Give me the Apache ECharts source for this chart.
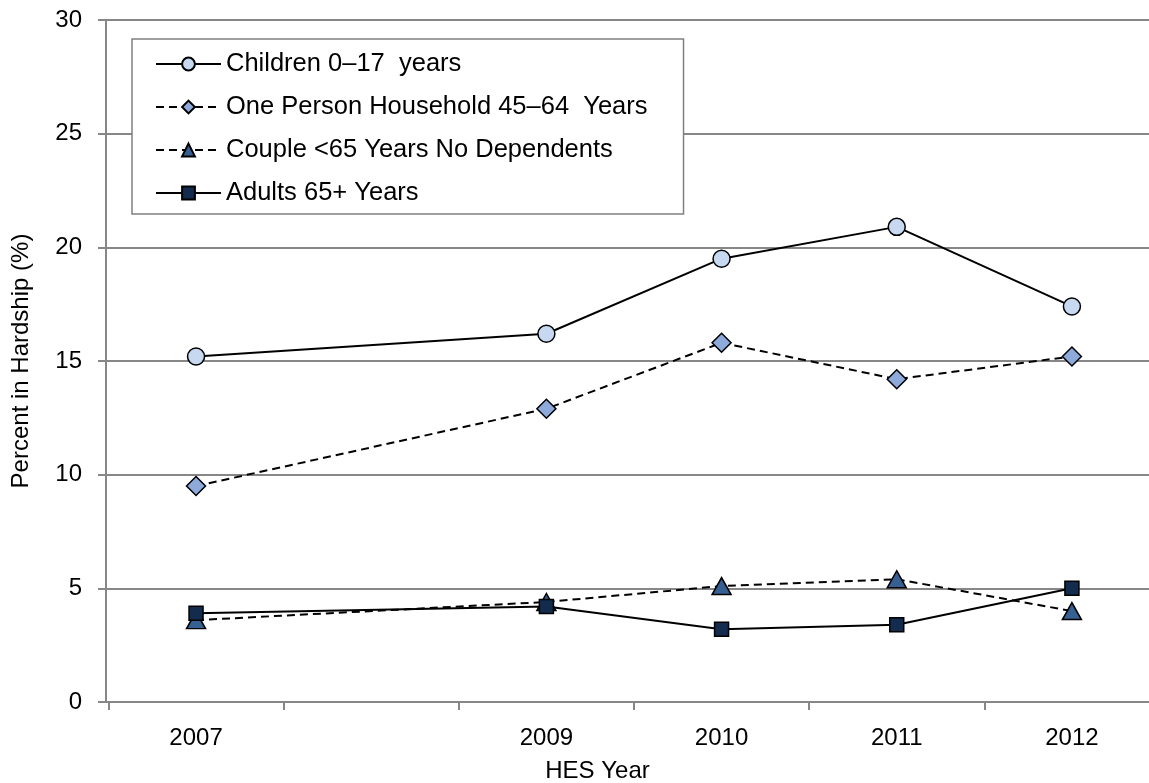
<!DOCTYPE html>
<html>
<head>
<meta charset="utf-8">
<script src="https://cdn.jsdelivr.net/npm/echarts@6/dist/echarts.min.js"></script>
<style>
  html, body { margin: 0; padding: 0; background: #fff; }
  #chart { width: 1149px; height: 783px; }
</style>
</head>
<body>
<div id="chart"></div>
<script>
const years = [2007, 2009, 2010, 2011, 2012]
const yearLabels = [2007, 2009, 2010, 2011, 2012]
const yearTicks = [2006.5, 2007.5, 2008.5, 2009.5, 2010.5, 2011.5]
const yTicks = [0, 5, 10, 15, 20, 25, 30]

const children = [15.2, 16.2, 19.5, 20.9, 17.4]
const onePerson = [9.5, 12.9, 15.8, 14.2, 15.2]
const couple = [3.6, 4.4, 5.1, 5.4, 4.0]
const adults = [3.9, 4.2, 3.2, 3.4, 5.0]

const FONT = 'Arial, "Liberation Sans", sans-serif'
const GRID_COLOR = '#878787'

const SERIES = [
  { name: 'Children 0\u201317  years', data: children, symbol: 'circle', size: 17, color: '#c6d9f1', dashed: false },
  { name: 'One Person Household 45\u201364  Years', data: onePerson, symbol: 'diamond', size: 19, color: '#8eaadb', dashed: true },
  { name: 'Couple <65 Years No Dependents', data: couple, symbol: 'triangle', size: [19, 17], color: '#366092', dashed: true },
  { name: 'Adults 65+ Years', data: adults, symbol: 'rect', size: 14, color: '#132c4e', dashed: false },
]

const chart = echarts.init(document.getElementById('chart'))

chart.setOption({
  animation: false,
  textStyle: { fontFamily: FONT, color: '#000' },
  grid: { left: 106, top: 20, right: 0, bottom: 81, outerBoundsMode: 'none', containLabel: false },
  legend: {
    orient: 'vertical',
    left: 132, top: 39,
    padding: [11, 36, 7, 23],
    itemGap: 15,
    itemWidth: 65, itemHeight: 16,
    borderColor: '#808080', borderWidth: 1.5,
    backgroundColor: '#fff',
    textStyle: { fontSize: 25.5, color: '#000', lineHeight: 28, fontFamily: FONT },
    data: SERIES.map(s => s.name),
  },
  xAxis: {
    type: 'value',
    min: 2006.486, max: 2012.44,
    name: 'HES Year',
    nameLocation: 'middle',
    nameGap: 57,
    nameTextStyle: { fontSize: 24, color: '#000', fontFamily: FONT, padding: [0, 60, 0, 0] },
    axisLine: { lineStyle: { color: GRID_COLOR, width: 2 } },
    axisTick: {
      show: true, inside: false, length: 8,
      customValues: yearTicks,
      lineStyle: { color: GRID_COLOR, width: 2 },
    },
    axisLabel: {
      customValues: yearLabels,
      formatter: v => String(v),
      fontSize: 24, color: '#000', margin: 24, fontFamily: FONT,
    },
    splitLine: { show: false },
  },
  yAxis: {
    type: 'value',
    min: 0, max: 30, interval: 5,
    name: 'Percent in Hardship (%)',
    nameLocation: 'middle',
    nameGap: 73,
    nameTextStyle: { fontSize: 24, color: '#000', fontFamily: FONT },
    axisLine: { show: true, lineStyle: { color: GRID_COLOR, width: 2 } },
    axisTick: { show: true, length: 8, lineStyle: { color: GRID_COLOR, width: 2 } },
    axisLabel: {
      fontSize: 24, color: '#000', margin: 24, fontFamily: FONT,
      formatter: v => (yTicks.includes(v) ? String(v) : ''),
    },
    splitLine: { show: true, lineStyle: { color: GRID_COLOR, width: 2 } },
  },
  series: SERIES.map(s => ({
    name: s.name,
    type: 'line',
    data: years.map((y, i) => [y, s.data[i]]),
    symbol: s.symbol,
    symbolSize: s.size,
    showAllSymbol: true,
    lineStyle: { color: '#000', width: 2, type: s.dashed ? [8, 5] : 'solid' },
    itemStyle: { color: s.color, borderColor: '#000', borderWidth: 1.5 },
    emphasis: { disabled: true },
  })),
})
</script>
</body>
</html>
